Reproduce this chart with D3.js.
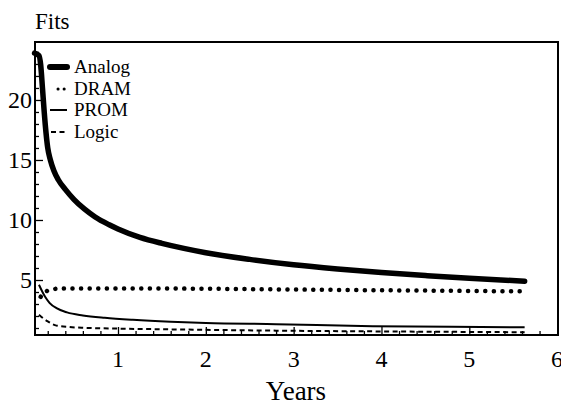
<!DOCTYPE html>
<html>
<head>
<meta charset="utf-8">
<script src="https://cdn.jsdelivr.net/npm/d3@7"></script>
<style>
  body { margin: 0; background: #fff; }
  text { font-family: "Liberation Serif", "DejaVu Serif", serif; fill: #000; }
</style>
</head>
<body>
<div id="chart"></div>
<script>
// data
var analogYears = [0.05, 0.1, 0.12, 0.14, 0.16, 0.18, 0.2, 0.23, 0.27, 0.32, 0.4, 0.5, 0.62, 0.74, 0.9, 1.0, 1.25, 1.5, 1.75, 2.0, 2.5, 3.0, 3.5, 4.0, 4.5, 5.0, 5.63];
var analogFits = [23.9, 23.7, 22.9, 21.0, 19.0, 17.3, 16.0, 15.0, 14.1, 13.35, 12.55, 11.7, 10.9, 10.25, 9.6, 9.25, 8.55, 8.05, 7.63, 7.27, 6.72, 6.27, 5.92, 5.62, 5.37, 5.14, 4.9];

var dramYears = [0.12, 0.16, 0.22, 0.3, 0.42, 1.0, 2.0, 2.8, 3.9, 4.8, 5.63];
var dramFits = [3.6, 3.95, 4.15, 4.27, 4.3, 4.3, 4.27, 4.22, 4.15, 4.1, 4.05];

var promYears = [0.1, 0.14, 0.17, 0.22, 0.3, 0.42, 0.6, 0.85, 1.17, 1.6, 2.0, 2.8, 3.9, 4.8, 5.63];
var promFits = [4.6, 4.0, 3.6, 3.1, 2.65, 2.3, 2.05, 1.85, 1.68, 1.52, 1.42, 1.32, 1.15, 1.1, 1.06];

var logicYears = [0.1, 0.15, 0.2, 0.3, 0.45, 0.6, 1.0, 1.55, 2.2, 2.8, 3.9, 4.8, 5.63];
var logicFits = [2.1, 1.8, 1.55, 1.2, 1.08, 1.02, 0.95, 0.89, 0.83, 0.78, 0.72, 0.68, 0.65];

var seriesNames = ["Analog", "DRAM", "PROM", "Logic"];
var xTicks = [1, 2, 3, 4, 5, 6];
var yTicks = [5, 10, 15, 20];

var svgWidth = 561;
var svgHeight = 405;

// frame edges in pixels
var frameLeft = 35, frameRight = 558, frameTop = 42, frameBottom = 335;

var svg = d3.select("#chart")
  .append("svg")
  .attr("width", svgWidth)
  .attr("height", svgHeight);

var x = d3.scaleLinear()
  .domain([0.055, 6.01])
  .range([frameLeft, frameRight]);

var y = d3.scaleLinear()
  .domain([0.417, 24.83])
  .range([frameBottom, frameTop]);

// line styles per series
var styles = {
  Analog: { width: 5.5, dash: null, cap: "round" },
  DRAM: { width: 4.5, dash: "0.1,8.5", cap: "round" },
  PROM: { width: 2, dash: null, cap: "butt" },
  Logic: { width: 2, dash: "5,3.5", cap: "butt" }
};

var series = [
  { name: "Analog", years: analogYears, fits: analogFits },
  { name: "DRAM", years: dramYears, fits: dramFits },
  { name: "PROM", years: promYears, fits: promFits },
  { name: "Logic", years: logicYears, fits: logicFits }
];

var line = d3.line()
  .x(d => x(d[0]))
  .y(d => y(d[1]))
  .curve(d3.curveMonotoneX);

series.forEach(s => {
  var pts = s.years.map((yr, i) => [yr, s.fits[i]]);
  var st = styles[s.name];
  svg.append("path")
    .attr("d", line(pts))
    .attr("fill", "none")
    .attr("stroke", "#000")
    .attr("stroke-width", st.width)
    .attr("stroke-linecap", st.cap)
    .attr("stroke-linejoin", "round")
    .attr("stroke-dasharray", st.dash);
});

// axes with inward ticks
var xMinor = d3.range(0.2, 6.01, 0.2).filter(v => Math.abs(v - Math.round(v)) > 0.01);
var yMinor = d3.range(1, 25, 1).filter(v => v % 5 !== 0);

var bottomAxis = svg.append("g")
  .attr("transform", `translate(0, ${frameBottom})`)
  .call(d3.axisTop(x).tickValues(xTicks).tickSize(8).tickFormat(""));
var bottomMinor = svg.append("g")
  .attr("transform", `translate(0, ${frameBottom})`)
  .call(d3.axisTop(x).tickValues(xMinor).tickSize(4).tickFormat(""));

var leftAxis = svg.append("g")
  .attr("transform", `translate(${frameLeft}, 0)`)
  .call(d3.axisRight(y).tickValues(yTicks).tickSize(8).tickFormat(""));
var leftMinor = svg.append("g")
  .attr("transform", `translate(${frameLeft}, 0)`)
  .call(d3.axisRight(y).tickValues(yMinor).tickSize(4).tickFormat(""));

svg.selectAll(".domain").remove();
svg.selectAll(".tick line").attr("stroke", "#000").attr("stroke-width", 1.3);

// frame
svg.append("rect")
  .attr("x", frameLeft)
  .attr("y", frameTop)
  .attr("width", frameRight - frameLeft)
  .attr("height", frameBottom - frameTop)
  .attr("fill", "none")
  .attr("stroke", "#000")
  .attr("stroke-width", 2);

// tick labels
svg.selectAll(".xlab")
  .data(xTicks)
  .enter()
  .append("text")
  .attr("x", d => x(d))
  .attr("y", 367)
  .attr("text-anchor", "middle")
  .style("font-size", "24px")
  .text(d => d);

svg.selectAll(".ylab")
  .data(yTicks)
  .enter()
  .append("text")
  .attr("x", 32)
  .attr("y", d => y(d) + 8)
  .attr("text-anchor", "end")
  .style("font-size", "24px")
  .text(d => d);

// axis titles
svg.append("text")
  .attr("x", 35)
  .attr("y", 29)
  .style("font-size", "23px")
  .text("Fits");

svg.append("text")
  .attr("x", 296)
  .attr("y", 400)
  .attr("text-anchor", "middle")
  .style("font-size", "27px")
  .text("Years");

// legend
var legendY = [67, 89, 110, 132];
var legendX0 = { Analog: 50, DRAM: 58, PROM: 50, Logic: 51 };

seriesNames.forEach((name, i) => {
  var st = styles[name];
  svg.append("line")
    .attr("x1", legendX0[name])
    .attr("x2", 67)
    .attr("y1", legendY[i])
    .attr("y2", legendY[i])
    .attr("stroke", "#000")
    .attr("stroke-width", name === "Analog" ? 6 : (name === "DRAM" ? 3 : st.width))
    .attr("stroke-linecap", st.cap)
    .attr("stroke-dasharray", name === "DRAM" ? "0.1,6" : st.dash);

  svg.append("text")
    .attr("x", 74)
    .attr("y", legendY[i] + 6)
    .style("font-size", "19px")
    .text(name);
});
</script>
</body>
</html>
